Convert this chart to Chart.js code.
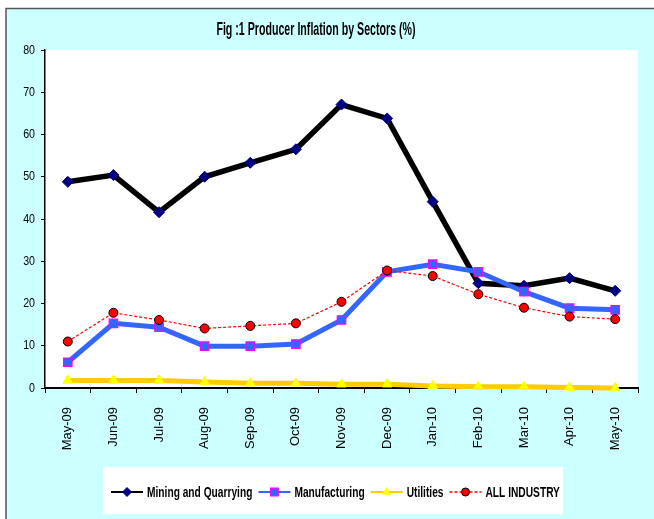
<!DOCTYPE html>
<html><head><meta charset="utf-8">
<script src="https://cdn.jsdelivr.net/npm/chart.js@4.4.1/dist/chart.umd.min.js"></script>
<style>html,body{margin:0;padding:0;background:#fff}canvas{display:block}</style>
</head><body>
<canvas id="c" width="654" height="519"></canvas>
<script>
const months = ['May-09','Jun-09','Jul-09','Aug-09','Sep-09','Oct-09','Nov-09','Dec-09','Jan-10','Feb-10','Mar-10','Apr-10','May-10'];
const miningQuarrying = [48.8, 50.4, 41.6, 50.0, 53.3, 56.5, 67.1, 63.8, 44.1, 24.8, 24.2, 26.0, 23.0];
const manufacturing   = [6.1, 15.3, 14.4, 9.9, 9.9, 10.4, 16.1, 27.5, 29.3, 27.5, 22.8, 18.9, 18.5];
const utilities       = [1.8, 1.8, 1.8, 1.4, 1.1, 1.1, 0.9, 0.9, 0.5, 0.3, 0.3, 0.1, 0.0];
const allIndustry     = [11.0, 17.8, 16.1, 14.1, 14.7, 15.3, 20.4, 27.8, 26.5, 22.2, 19.0, 16.9, 16.3];
const yTickValues = [0, 10, 20, 30, 40, 50, 60, 70, 80];
const titleText = 'Fig :1 Producer Inflation by Sectors (%)';

const REG = "'Liberation Sans', Arial, sans-serif";

const bgPlugin = {
  id: 'bg',
  beforeDraw(chart) {
    const ctx = chart.ctx, a = chart.chartArea;
    ctx.save();
    ctx.fillStyle = '#ffffff';
    ctx.fillRect(0, 0, chart.width, chart.height);
    ctx.fillStyle = '#CCFFFF';
    ctx.fillRect(6, 9, chart.width - 6, chart.height - 9);
    ctx.strokeStyle = '#555555';
    ctx.lineWidth = 1.5;
    ctx.beginPath();
    ctx.moveTo(6, chart.height); ctx.lineTo(6, 8.5); ctx.lineTo(chart.width, 8.5);
    ctx.stroke();
    ctx.fillStyle = '#ffffff';
    ctx.fillRect(a.left, a.top, a.right - a.left, a.bottom - a.top);
    ctx.restore();
  },
  afterDraw(chart) {
    const ctx = chart.ctx;
    const H = Chart.helpers;
    const sx = 0.68;
    ctx.save();
    ctx.fillStyle = '#ffffff';
    ctx.fillRect(103, 467, 460, 47);
    const cy = 492;
    let x = 111;
    ctx.font = "bold 15px " + REG;
    ctx.textBaseline = 'middle';
    chart.data.datasets.forEach(ds => {
      ctx.save();
      ctx.strokeStyle = ds.borderColor;
      ctx.lineWidth = ds.legendLineWidth;
      ctx.setLineDash(ds.borderDash || []);
      ctx.beginPath(); ctx.moveTo(x, cy); ctx.lineTo(x + 32, cy); ctx.stroke();
      ctx.setLineDash([]);
      ctx.fillStyle = ds.pointBackgroundColor;
      ctx.strokeStyle = ds.pointBorderColor;
      ctx.lineWidth = ds.pointBorderWidth;
      H.drawPoint(ctx, {pointStyle: ds.pointStyle, radius: ds.legendRadius, borderWidth: ds.pointBorderWidth, rotation: 0}, x + 16, cy);
      ctx.restore();
      const tx = x + 36;
      ctx.save();
      ctx.translate(tx, 0); ctx.scale(sx, 1);
      ctx.fillStyle = '#000';
      ctx.fillText(ds.label, 0, cy + 1);
      ctx.restore();
      x = tx + ctx.measureText(ds.label).width * sx + 6;
    });
    ctx.restore();
  }
};

const chart = new Chart(document.getElementById('c'), {
  type: 'line',
  data: {
    labels: months,
    datasets: [
      { label: 'Mining and Quarrying', data: miningQuarrying, borderColor: '#000000', borderWidth: 5.5,
        pointStyle: 'rectRot', pointRadius: 5.5, pointBackgroundColor: '#000080', pointBorderColor: '#000080', pointBorderWidth: 1,
        legendLineWidth: 2, legendRadius: 4.5, order: 4, clip: false },
      { label: 'Manufacturing', data: manufacturing, borderColor: '#3366FF', borderWidth: 5,
        pointStyle: 'rect', pointRadius: 6, pointBackgroundColor: '#3366FF', pointBorderColor: '#FF00FF', pointBorderWidth: 1.2,
        legendLineWidth: 2, legendRadius: 5.5, order: 3, clip: false },
      { label: 'Utilities', data: utilities, borderColor: '#FFCC00', borderWidth: 5,
        pointStyle: 'triangle', pointRadius: 5.5, pointBackgroundColor: '#FFFF00', pointBorderColor: '#FFFF00', pointBorderWidth: 1,
        legendLineWidth: 2, legendRadius: 4.5, order: 2, clip: false },
      { label: 'ALL INDUSTRY', data: allIndustry, borderColor: '#FF0000', borderWidth: 1.2, borderDash: [3, 2],
        pointStyle: 'circle', pointRadius: 4.5, pointBackgroundColor: '#FF0000', pointBorderColor: '#000000', pointBorderWidth: 1,
        legendLineWidth: 1.5, legendRadius: 4, order: 1, clip: false }
    ]
  },
  options: {
    responsive: false,
    animation: false,
    devicePixelRatio: 1,
    layout: { padding: { left: 0, right: 16, top: 0, bottom: 0 } },
    elements: { line: { tension: 0 }, point: { hoverRadius: 5 } },
    plugins: {
      legend: { display: false },
      tooltip: { enabled: false },
      title: { display: true, text: titleText, color: '#000',
        font: { family: REG, size: 19, weight: 'bold', lineHeight: 1.2 },
        padding: { top: 18, bottom: 9.2 } }
    },
    scales: {
      x: {
        offset: true,
        grid: { offset: true, drawOnChartArea: false, drawTicks: true, tickLength: 5, color: '#000', tickWidth: 1 },
        border: { display: true, color: '#000', width: 2 },
        ticks: { minRotation: 90, maxRotation: 90, autoSkip: false, color: '#000', padding: 14,
          font: { family: REG, size: 13 } },
        afterFit(s) { s.height = 131; }
      },
      y: {
        min: 0, max: 80,
        afterBuildTicks(s) { s.ticks = yTickValues.map(v => ({ value: v })); },
        grid: { drawOnChartArea: false, drawTicks: true, tickLength: 4, color: '#000', tickWidth: 1 },
        border: { display: true, color: '#000', width: 1.5 },
        ticks: { color: '#000', padding: 6, font: { family: REG, size: 13 } },
        afterFit(s) { s.width = 45; }
      }
    }
  },
  plugins: [bgPlugin]
});

// horizontally condense the title and y tick labels like the reference typeface
const tb = chart.titleBlock;
const origTitleDraw = tb.draw.bind(tb);
tb.draw = function () {
  const ctx = this.ctx;
  const cx = (this.left + this.right) / 2;
  ctx.save();
  ctx.translate(316, 0); ctx.scale(0.56, 1); ctx.translate(-cx, 0);
  origTitleDraw();
  ctx.restore();
};
const ys = chart.scales.y;
const origYLabels = ys.drawLabels.bind(ys);
ys.drawLabels = function (area) {
  const ctx = this.ctx;
  const rx = this.right - 10;
  ctx.save();
  ctx.translate(rx, 0); ctx.scale(0.82, 1); ctx.translate(-rx, 0);
  origYLabels(area);
  ctx.restore();
};
chart.draw();
</script>
</body></html>
